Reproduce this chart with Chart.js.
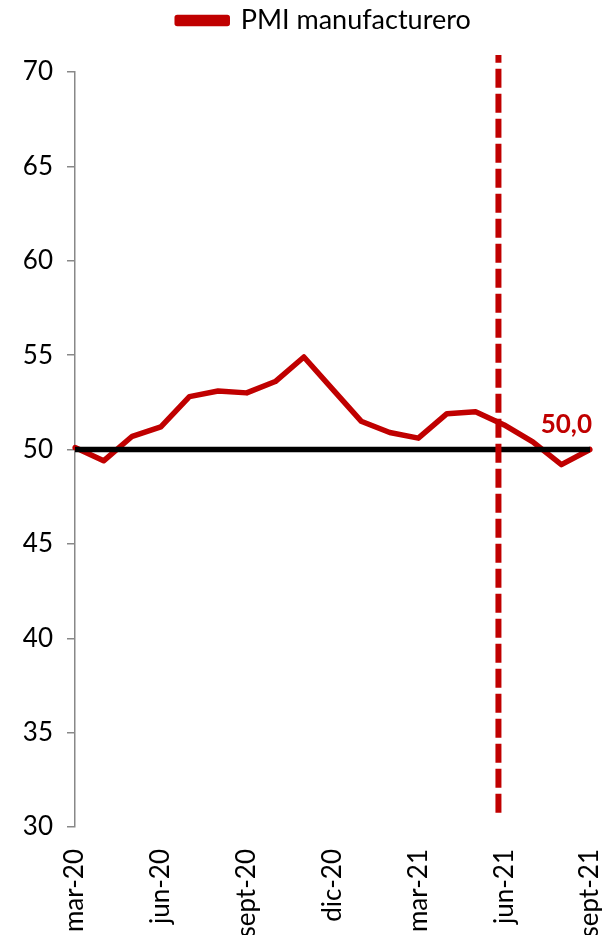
<!DOCTYPE html>
<html>
<head>
<meta charset="utf-8">
<script src="https://cdn.jsdelivr.net/npm/chart.js@4/dist/chart.umd.min.js"></script>
<style>
  html, body { margin: 0; padding: 0; background: #fff; }
  #wrap { width: 602px; height: 935px; }
</style>
</head>
<body>
<div id="wrap"><canvas id="pmi"></canvas></div>
<script>
// ---------------------------------------------------------------
//  Data
// ---------------------------------------------------------------
const MONTHS = [
  "mar-20", "abr-20", "may-20", "jun-20", "jul-20", "ago-20", "sept-20",
  "oct-20", "nov-20", "dic-20", "ene-21", "feb-21", "mar-21", "abr-21",
  "may-21", "jun-21", "jul-21", "ago-21", "sept-21",
];
const PMI = [
  50.1, 49.4, 50.7, 51.2, 52.8, 53.1, 53.0, 53.6, 54.9, 53.2,
  51.5, 50.9, 50.6, 51.9, 52.0, 51.3, 50.4, 49.2, 50.0,
];
const Y_TICKS = [30, 35, 40, 45, 50, 55, 60, 65, 70];
const THRESHOLD = 50;          // black reference line
const MARKER_AT = 14.8;        // dashed vertical marker, just before jun-21
const MARKER_RANGE = [30.75, 70.9];
const LABEL_EVERY = 3;

// ---------------------------------------------------------------
//  Style
// ---------------------------------------------------------------
const RED = "#c00000";
const FONT = "Lato, 'Open Sans', sans-serif";
const LEGEND_SHIFT = 29;
const LEGEND_GAP = 28;         // empty space between legend and plot
const PLOT_TOP = 72;

// Reference line, vertical marker and last value label
const overlay = {
  id: "overlay",
  beforeLayout(chart) {
    const lg = chart.legend;
    if (lg && !lg._gapPatched) {
      const fit = lg.fit.bind(lg);
      lg.fit = function () { fit(); this.height += LEGEND_GAP; };
      lg._gapPatched = true;
    }
  },
  afterLayout(chart) {
    chart.legend.left += LEGEND_SHIFT;
    chart.legend.right += LEGEND_SHIFT;
  },
  afterDatasetsDraw(chart) {
    const { ctx, chartArea: a, scales: { x, y } } = chart;
    ctx.save();

    // 50 line
    const y50 = y.getPixelForValue(THRESHOLD);
    ctx.beginPath();
    ctx.moveTo(a.left, y50);
    ctx.lineTo(a.right, y50);
    ctx.strokeStyle = "#000";
    ctx.lineWidth = 5.5;
    ctx.stroke();

    // dashed marker
    const xm = x.getPixelForValue(MARKER_AT);
    ctx.beginPath();
    ctx.moveTo(xm, y.getPixelForValue(MARKER_RANGE[0]));
    ctx.lineTo(xm, y.getPixelForValue(MARKER_RANGE[1]));
    ctx.strokeStyle = RED;
    ctx.lineWidth = 6;
    ctx.setLineDash([19, 6]);
    ctx.stroke();
    ctx.setLineDash([]);

    // last value label
    const last = PMI.length - 1;
    ctx.fillStyle = RED;
    ctx.font = "bold 26px " + FONT;
    ctx.textAlign = "right";
    ctx.textBaseline = "alphabetic";
    ctx.fillText(PMI[last].toFixed(1).replace(".", ","),
      x.getPixelForValue(last) + 2, y.getPixelForValue(PMI[last]) - 17);
    ctx.restore();
  },
};

new Chart(document.getElementById("pmi"), {
  type: "line",
  data: {
    labels: MONTHS,
    datasets: [{
      label: "PMI manufacturero",
      data: PMI,
      borderColor: RED,
      backgroundColor: RED,
      borderWidth: 5.5,
      pointRadius: 0,
      tension: 0,
      borderJoinStyle: "round",
      borderCapStyle: "round",
    }],
  },
  options: {
    responsive: true,
    maintainAspectRatio: false,
    animation: false,
    layout: { padding: { top: 0, right: 12, left: 0, bottom: 0 } },
    plugins: {
      legend: {
        display: true,
        position: "top",
        labels: {
          color: "#000",
          font: { family: FONT, size: 27 },
          boxWidth: 50,
          boxHeight: 6,
          padding: 6,
        },
      },
      tooltip: { enabled: false },
    },
    scales: {
      x: {
        offset: false,
        grid: { display: false },
        border: { display: false },
        ticks: {
          autoSkip: false,
          minRotation: 90,
          maxRotation: 90,
          padding: 14,
          color: "#000",
          font: { family: FONT, size: 26 },
          callback: (v, i) => (i % LABEL_EVERY === 0 ? MONTHS[i] : ""),
        },
        afterFit: s => { s.height = 108; s.paddingRight = 0; s.paddingLeft = 0; },
      },
      y: {
        min: Y_TICKS[0],
        max: Y_TICKS[Y_TICKS.length - 1],
        afterBuildTicks: s => { s.ticks = Y_TICKS.map(v => ({ value: v })); },
        ticks: {
          padding: 14,
          color: "#000",
          font: { family: FONT, size: 26 },
        },
        grid: { drawOnChartArea: false, tickLength: 8, color: "#888", lineWidth: 1.5 },
        border: { color: "#888", width: 1.5 },
        afterFit: s => { s.width = 75; s.paddingTop = PLOT_TOP; s.paddingBottom = 0; },
      },
    },
  },
  plugins: [overlay],
});
</script>
</body>
</html>
